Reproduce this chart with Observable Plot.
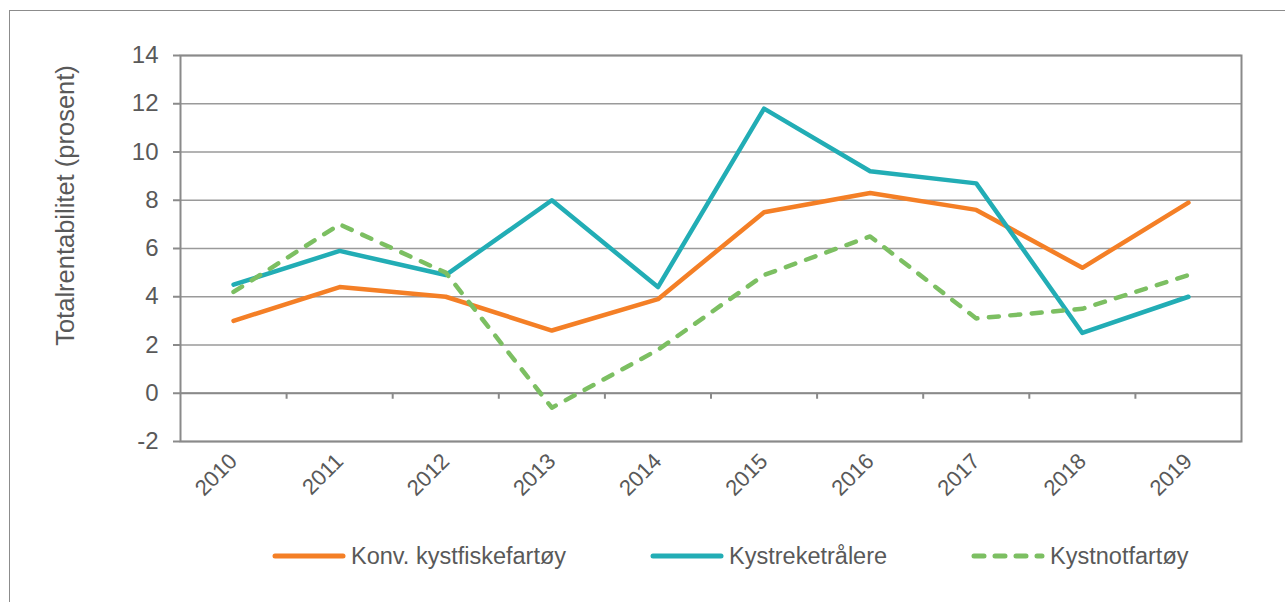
<!DOCTYPE html>
<html>
<head>
<meta charset="utf-8">
<script src="https://cdn.jsdelivr.net/npm/d3@7"></script>
<script src="https://cdn.jsdelivr.net/npm/@observablehq/plot@0.6"></script>
<style>
  html, body { margin: 0; padding: 0; width: 1285px; height: 602px; overflow: hidden; background: #fff; }
  #outer { position: absolute; left: 9px; top: 10px; width: 1300px; height: 620px; border: 1.5px solid #8c8c8c; box-sizing: border-box; }
  #chart { position: absolute; left: 0; top: 0; }
  #legend { position: absolute; left: 272px; top: 541px; display: flex; gap: 84px; font-family: "Liberation Sans", Arial, sans-serif; font-size: 23.5px; color: #595959; }
  .item { display: flex; align-items: center; gap: 5px; height: 30px; }
</style>
</head>
<body>
<div id="outer"></div>
<div id="chart"></div>
<div id="legend"></div>
<script>
const years = [2010, 2011, 2012, 2013, 2014, 2015, 2016, 2017, 2018, 2019];
const seriesNames = ["Konv. kystfiskefartøy", "Kystreketrålere", "Kystnotfartøy"];
const konvKyst = [3.0, 4.4, 4.0, 2.6, 3.9, 7.5, 8.3, 7.6, 5.2, 7.9];
const kystreke = [4.5, 5.9, 4.9, 8.0, 4.4, 11.8, 9.2, 8.7, 2.5, 4.0];
const kystnot = [4.2, 7.0, 5.0, -0.6, 1.8, 4.9, 6.5, 3.1, 3.5, 4.9];
const yTicks = [-2, 0, 2, 4, 6, 8, 10, 12, 14];
const yLabel = "Totalrentabilitet (prosent)";
const colors = ["#f47f26", "#22adb5", "#7cbf62"];
const dashes = [null, null, "10,11.5"];

const valuesBySeries = [konvKyst, kystreke, kystnot];
const rows = valuesBySeries.flatMap((vals, s) => vals.map((v, i) => ({year: years[i], value: v, series: seriesNames[s]})));
const boundaries = years.slice(0, -1).map(y => y + 0.5);

const lineMarks = seriesNames.map((name, s) => Plot.line(rows.filter(r => r.series === name), {
  x: "year", y: "value",
  stroke: colors[s], strokeWidth: 4.5,
  strokeDasharray: dashes[s] || undefined,
  strokeLinecap: "round", strokeLinejoin: "round"
}));

const chart = Plot.plot({
  width: 1285,
  height: 520,
  marginLeft: 180,
  marginRight: 44,
  marginTop: 55,
  marginBottom: 79,
  style: {fontFamily: "'Liberation Sans', Arial, sans-serif", fontSize: "22px", color: "#595959", background: "transparent", overflow: "visible"},
  x: {type: "linear", domain: [years[0] - 0.5, years[years.length - 1] + 0.5]},
  y: {domain: [yTicks[0], yTicks[yTicks.length - 1]]},
  marks: [
    Plot.ruleY(yTicks, {stroke: "#9a9a9a", strokeWidth: 1.4}),
    Plot.ruleY([0], {stroke: "#8a8a8a", strokeWidth: 2}),
    Plot.ruleX(boundaries, {y1: 0, y2: 0, insetBottom: -6, stroke: "#8a8a8a", strokeWidth: 2}),
    Plot.frame({stroke: "#8a8a8a", strokeWidth: 2}),
    Plot.axisY({ticks: yTicks, tickSize: 7, tickPadding: 15, label: null, fill: "#595959", stroke: "#8a8a8a", strokeWidth: 2, fontSize: 24, tickFormat: d => String(d).replace("\u2212", "-")}),
    Plot.axisX({ticks: years, tickFormat: d => String(d), tickSize: 0, tickRotate: -45, tickPadding: 16, label: null, fill: "#595959", fontSize: 22}),
    Plot.text([yLabel], {frameAnchor: "left", textAnchor: "middle", rotate: -90, dx: -115, dy: -43, fill: "#595959", fontSize: 25.5}),
    ...lineMarks
  ]
});
document.getElementById("chart").appendChild(chart);

const legend = d3.select("#legend");
seriesNames.forEach((name, s) => {
  const item = legend.append("div").attr("class", "item");
  const svg = item.append("svg").attr("width", 74).attr("height", 12);
  svg.append("line").attr("x1", 3).attr("x2", 71).attr("y1", 6).attr("y2", 6)
    .attr("stroke", colors[s]).attr("stroke-width", 5).attr("stroke-linecap", "round")
    .attr("stroke-dasharray", dashes[s] ? "10,11" : null);
  item.append("span").text(name);
});
</script>
</body>
</html>
